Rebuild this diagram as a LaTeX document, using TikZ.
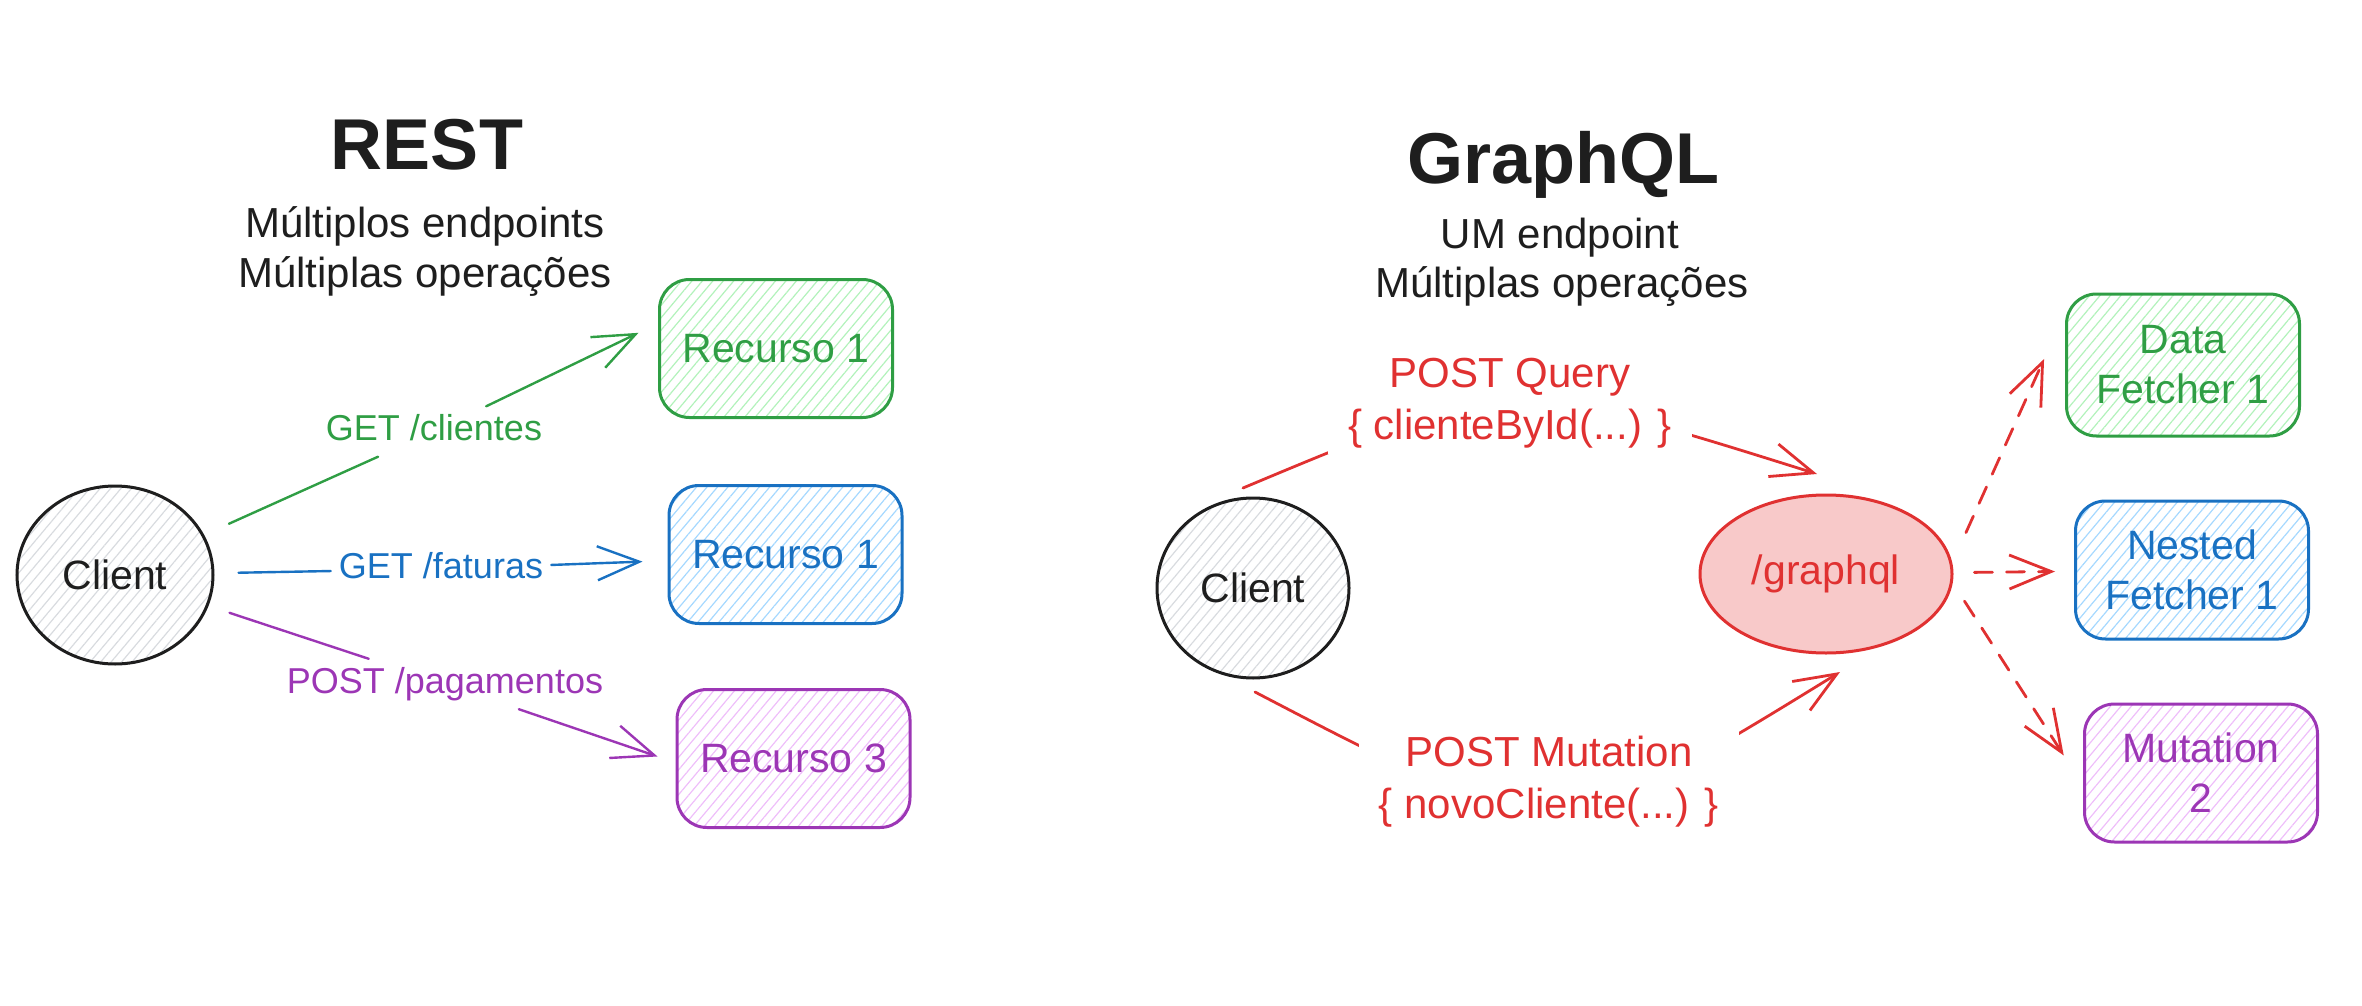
\documentclass[tikz,border=0pt]{standalone}
\usepackage{fontspec}
\setmainfont{Liberation Sans}
\usetikzlibrary{shapes.geometric,arrows.meta,patterns.meta}
\definecolor{ink}{HTML}{1E1E1E}
\definecolor{gstroke}{HTML}{2F9E44}
\definecolor{gfill}{HTML}{B2F2BB}
\definecolor{bstroke}{HTML}{1971C2}
\definecolor{bfill}{HTML}{A5D8FF}
\definecolor{pstroke}{HTML}{9C36B5}
\definecolor{pfill}{HTML}{EEBEFA}
\definecolor{rstroke}{HTML}{E03131}
\definecolor{rfill}{HTML}{F8C9C9}
\definecolor{cfill}{HTML}{D8DBDF}
\begin{document}
\begin{tikzpicture}[x=1pt,y=-1pt,
  hatch/.style={pattern={Lines[angle=50,distance=8pt,line width=1.2pt]}},
  box/.style={draw, rounded corners=30pt, line width=3pt, minimum width=233pt,
    minimum height=138pt, inner sep=0pt, align=center,
    font=\fontsize{41}{50}\selectfont, hatch},
  gbox/.style={box, draw=gstroke, text=gstroke, pattern color=gfill},
  bbox/.style={box, draw=bstroke, text=bstroke, pattern color=bfill},
  pbox/.style={box, draw=pstroke, text=pstroke, pattern color=pfill},
  client/.style={ellipse, draw=ink, line width=3pt, text=ink, hatch,
    pattern color=cfill, inner sep=0pt, font=\fontsize{41}{50}\selectfont},
  gql/.style={ellipse, draw=rstroke, fill=rfill, line width=3pt, text=rstroke,
    inner sep=0pt, minimum width=252pt, minimum height=158pt,
    font=\fontsize{41}{50}\selectfont},
  title/.style={anchor=base, text=ink, font=\fontsize{72}{80}\selectfont\bfseries},
  subtitle/.style={anchor=base, text=ink, font=\fontsize{42}{50}\selectfont},
  elabel/.style={font=\fontsize{36}{44}\selectfont, inner sep=8pt,
    text height=26pt, text depth=8pt},
  rlabel/.style={text=rstroke, fill=white, align=center,
    font=\fontsize{42}{52}\selectfont, inner xsep=20pt, inner ysep=6pt},
  tip/.style={-{Straight Barb[length=42pt,width=34pt]}},
  conn/.style={line width=2.4pt, line cap=round, line join=round},
  rconn/.style={line width=2.8pt, draw=rstroke, line cap=round, line join=round},
  dashline/.style={dash pattern=on 18pt off 14pt},
]
\useasboundingbox (0,0) rectangle (2362,1006);

% ---------- REST ----------
\node[title] (restT) at (427,170) {REST};
\node[subtitle] (restS1) at (425,237) {Múltiplos endpoints};
\node[subtitle] (restS2) at (425,287) {Múltiplas operações};

\node[client, minimum width=196pt, minimum height=178pt] (cl) at (115,575) {Client};
\node[gbox] (r1) at (776,348.5) {Recurso 1};
\node[bbox] (r2) at (785.5,554.5) {Recurso 1};
\node[pbox] (r3) at (793.5,758.5) {Recurso 3};

\node[elabel, text=gstroke] (lg) at (434,431.5) {GET /clientes};
\node[elabel, text=bstroke] (lb) at (441,569) {GET /faturas};
\node[elabel, text=pstroke] (lp) at (445,684) {POST /pagamentos};

\draw[conn, gstroke, shorten <=28pt] (cl) -- (lg);
\draw[conn, gstroke, tip, shorten >=21.6pt] (lg) -- (r1.168);
\draw[conn, bstroke, shorten <=25pt] (cl) -- (lb);
\draw[conn, bstroke, tip, shorten >=25pt] (lb) -- (r2.183.8);
\draw[conn, pstroke, shorten <=23pt] (cl) -- (lp);
\draw[conn, pstroke, tip, shorten >=19pt] (lp) -- (r3.182.3);

% ---------- GraphQL ----------
\node[title] (gqlT) at (1563,183) {GraphQL};
\node[subtitle] (gqlS1) at (1560,248) {UM endpoint};
\node[subtitle] (gqlS2) at (1562,297) {Múltiplas operações};

\node[client, minimum width=192pt, minimum height=180pt] (cr) at (1253,588) {Client};
\node[gql] (gq) at (1826,574) {/graphql};
\node[gbox, minimum height=142pt] (f1) at (2183,365) {Data\\Fetcher 1};
\node[bbox] (f2) at (2192,570) {Nested\\Fetcher 1};
\node[pbox] (m2) at (2201,773) {Mutation\\2};

\coordinate (qs) at (1243,488);
\coordinate (qc) at (1508,377);
\coordinate (qe) at (1817,474);
\coordinate (ms) at (1255,692);
\coordinate (mc) at (1554,848);
\coordinate (me) at (1840,672);

\draw[rconn, tip] (qs) .. controls (qc) .. (qe);
\draw[rconn, tip] (ms) .. controls (mc) .. (me);

\node[rlabel] (lq) at (1510,403.4) {POST Query\\\{ clienteById(...) \}};
\node[rlabel] (lm) at (1549,781.4) {POST Mutation\\\{ novoCliente(...) \}};

\draw[rconn, dashline, tip, shorten <=33.3pt, shorten >=51pt] (gq.5) -- (f1.156.7);
\draw[rconn, dashline, tip, shorten <=21pt, shorten >=19pt] (gq) -- (f2);
\draw[rconn, dashline, tip, shorten <=21.7pt, shorten >=35.6pt] (gq.-4) -- (m2.186.75);
\end{tikzpicture}
\end{document}
